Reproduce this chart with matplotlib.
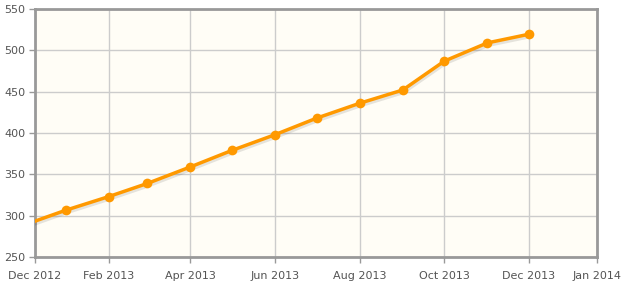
import datetime as dt
import matplotlib
matplotlib.use("Agg")
import matplotlib.pyplot as plt
import matplotlib.patheffects as pe

# monthly values (first of each month)
months = ["2012-12-01", "2013-01-01", "2013-02-01", "2013-03-01", "2013-04-01",
          "2013-05-01", "2013-06-01", "2013-07-01", "2013-08-01", "2013-09-01",
          "2013-10-01", "2013-11-01", "2013-12-01"]
values = [288, 306.5, 323, 339, 359, 379, 398, 418, 436, 452, 487, 509, 519.5]

x_start = "2012-12-10"
x_end = "2014-01-19"
tick_dates = [x_start, "2013-02-01", "2013-04-01", "2013-06-01", "2013-08-01",
              "2013-10-01", "2013-12-01", x_end]
tick_labels = ["Dec 2012", "Feb 2013", "Apr 2013", "Jun 2013", "Aug 2013",
               "Oct 2013", "Dec 2013", "Jan 2014"]
y_ticks = [250, 300, 350, 400, 450, 500, 550]


def to_date(s):
    return dt.datetime.strptime(s, "%Y-%m-%d")


def main():
    W, H = 624, 286
    fig = plt.figure(figsize=(W / 100, H / 100), dpi=100)
    fig.patch.set_facecolor("white")
    ax = fig.add_axes([35 / W, (H - 257) / H, (597 - 35) / W, (257 - 9) / H])
    ax.set_facecolor("#fffdf6")

    xs = [to_date(m) for m in months]
    # line with a soft shadow underneath
    ax.plot(xs, values, color="#ff9900", linewidth=2.5, zorder=3,
            path_effects=[pe.SimpleLineShadow(offset=(0.5, -1.5), shadow_color="#000000",
                                              alpha=0.1, linewidth=3),
                          pe.Normal()])
    ax.plot(xs, values, linestyle="none", marker="o", color="#ff9900",
            markersize=7, markeredgewidth=0, zorder=4)

    ax.set_xlim(to_date(x_start), to_date(x_end))
    ax.set_ylim(250, 550)
    ax.set_xticks([to_date(t) for t in tick_dates])
    ax.set_xticklabels(tick_labels)
    ax.set_yticks(y_ticks)

    ax.grid(True, color="#cccccc", linewidth=1)
    ax.set_axisbelow(True)
    ax.tick_params(axis="both", colors="#999999", labelcolor="#545454",
                   labelsize=8, length=4, width=1, direction="out")
    ax.tick_params(axis="x", pad=6)
    ax.tick_params(axis="y", pad=3)

    for sp in ax.spines.values():
        sp.set_color("#999999")
        sp.set_linewidth(2)
        sp.set_path_effects([pe.SimplePatchShadow(offset=(1.5, -1.5), alpha=0.12),
                             pe.Normal()])

    fig.savefig("out.png", dpi=100)


if __name__ == '__main__':
    main()
